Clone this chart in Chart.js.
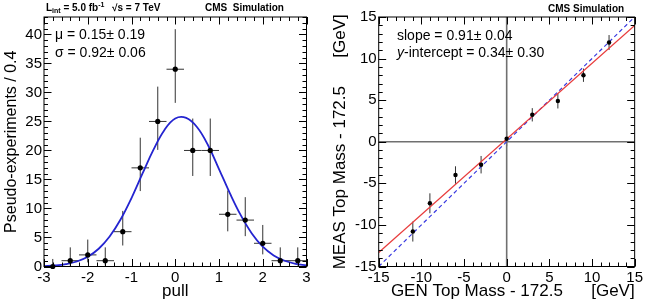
<!DOCTYPE html>
<html>
<head>
<meta charset="utf-8">
<script src="https://cdn.jsdelivr.net/npm/chart.js@4.4.0/dist/chart.umd.min.js"></script>
<style>
html, body { margin: 0; padding: 0; background: #fff; }
#wrap { position: relative; width: 645px; height: 305px; overflow: hidden; }
.panel { position: absolute; top: 0; height: 305px; }
</style>
</head>
<body>
<div id="wrap">
  <div class="panel" style="left:0;width:322px"><canvas id="pullChart" width="322" height="305"></canvas></div>
  <div class="panel" style="left:322px;width:323px"><canvas id="massChart" width="323" height="305"></canvas></div>
</div>
<script>
// left panel: pull distribution
const pullBins = [-2.8, -2.4, -2.0, -1.6, -1.2, -0.8, -0.4, 0.0, 0.4, 0.8, 1.2, 1.6, 2.0, 2.4, 2.8];
const pullCounts = [0, 1, 2, 1, 6, 17, 25, 34, 20, 20, 9, 8, 4, 1, 1];
const pullErrLow = [0, 0.83, 1.29, 0.83, 2.38, 4.0, 4.9, 5.8, 4.4, 4.4, 2.94, 2.77, 1.91, 0.83, 0.83];
const pullErrHigh = [1.3, 2.3, 2.64, 2.3, 3.58, 5.2, 6.0, 6.9, 5.5, 5.5, 4.1, 3.95, 3.16, 2.3, 2.3];

// gaussian fit curve
const fitX = [-3, -2.75, -2.5, -2.25, -2, -1.75, -1.5, -1.25, -1, -0.75, -0.5, -0.25, 0,
              0.25, 0.5, 0.75, 1, 1.25, 1.5, 1.75, 2, 2.25, 2.5, 2.75, 3];
const fitY = [0.07, 0.18, 0.41, 0.86, 1.68, 3.06, 5.17, 8.1, 11.8, 16.0, 20.1, 23.5, 25.5,
              25.6, 24.0, 20.9, 16.8, 12.6, 8.8, 5.7, 3.41, 1.91, 0.99, 0.47, 0.21];

// right panel: calibration
const genMass = [-11, -9, -6, -3, 0, 3, 6, 9, 12];
const measMass = [-10.8, -7.4, -4.0, -2.76, 0.36, 3.24, 4.9, 8.0, 11.93];
const measErr = [1.2, 1.2, 1.05, 1.05, 0.9, 0.8, 0.9, 0.8, 0.9];
const lineEndsX = [-15, 15];
const fitLineY = [-13.31, 13.99];
const diagLineY = [-15, 15];

Chart.defaults.font.family = '"Liberation Sans", Arial, Helvetica, sans-serif';
Chart.defaults.color = '#000';

// ROOT style frame with inward ticks on all sides
const rootFrame = {
    id: 'rootFrame',
    afterDatasetsDraw(chart, args, opts) {
        const ctx = chart.ctx;
        const a = chart.chartArea;
        const x = chart.scales.x, y = chart.scales.y;
        ctx.save();
        ctx.strokeStyle = '#000';
        ctx.lineWidth = 1;
        ctx.strokeRect(a.left, a.top, a.right - a.left, a.bottom - a.top);
        ctx.beginPath();
        let n = Math.round((x.max - x.min) / opts.xMinor);
        for (let i = 0; i <= n; i++) {
            const v = x.min + i * opts.xMinor;
            const px = Math.round(x.getPixelForValue(v)) + 0.5;
            const r = v / opts.xMajor;
            const len = Math.abs(r - Math.round(r)) < 1e-6 ? opts.majorLen : opts.minorLen;
            ctx.moveTo(px, a.bottom); ctx.lineTo(px, a.bottom - len);
            ctx.moveTo(px, a.top); ctx.lineTo(px, a.top + len);
        }
        n = Math.round((y.max - y.min) / opts.yMinor);
        for (let i = 0; i <= n; i++) {
            const v = y.min + i * opts.yMinor;
            const py = Math.round(y.getPixelForValue(v)) + 0.5;
            const r = v / opts.yMajor;
            const len = Math.abs(r - Math.round(r)) < 1e-6 ? opts.majorLen : opts.minorLen;
            ctx.moveTo(a.left, py); ctx.lineTo(a.left + len, py);
            ctx.moveTo(a.right, py); ctx.lineTo(a.right - len, py);
        }
        ctx.stroke();
        ctx.restore();
    }
};

const errorBars = {
    id: 'errorBars',
    beforeDatasetsDraw(chart, args, opts) {
        const ctx = chart.ctx;
        const x = chart.scales.x, y = chart.scales.y;
        const pts = chart.data.datasets[0].data;
        ctx.save();
        ctx.strokeStyle = opts.color;
        ctx.lineWidth = 1;
        ctx.beginPath();
        pts.forEach((p, i) => {
            const px = x.getPixelForValue(p.x);
            ctx.moveTo(px, y.getPixelForValue(p.y - opts.low[i]));
            ctx.lineTo(px, y.getPixelForValue(p.y + opts.high[i]));
            if (opts.xHalf) {
                const py = y.getPixelForValue(p.y);
                ctx.moveTo(x.getPixelForValue(p.x - opts.xHalf), py);
                ctx.lineTo(x.getPixelForValue(p.x + opts.xHalf), py);
            }
        });
        ctx.stroke();
        ctx.restore();
    }
};

const labels = {
    id: 'labels',
    afterDraw(chart, args, opts) {
        const ctx = chart.ctx;
        ctx.save();
        ctx.fillStyle = '#000';
        ctx.textBaseline = 'alphabetic';
        opts.items.forEach(item => {
            let cx = item.x;
            item.parts.forEach(part => {
                ctx.font = part.font;
                ctx.fillText(part.text, cx, item.y + (part.dy || 0));
                cx += ctx.measureText(part.text).width;
            });
        });
        ctx.restore();
    }
};

const fam = '"Liberation Sans", Arial, Helvetica, sans-serif';

function axis(min, max, step, fit, title, titleSize, titlePad, align) {
    return {
        type: 'linear', min: min, max: max,
        ticks: { stepSize: step, includeBounds: false, padding: 2, maxRotation: 0, font: { size: 15 }, color: '#000' },
        grid: { display: false, drawTicks: false },
        border: { display: false },
        title: { display: true, text: title, align: align || 'center', font: { size: titleSize }, color: '#000', padding: titlePad },
        afterFit: fit
    };
}

new Chart(document.getElementById('pullChart'), {
    type: 'scatter',
    data: {
        datasets: [{
            data: pullBins.map((b, i) => ({ x: b, y: pullCounts[i] })),
            pointRadius: 2.6,
            pointBackgroundColor: '#000',
            pointBorderWidth: 0,
            clip: false
        }, {
            type: 'line',
            data: fitX.map((v, i) => ({ x: v, y: fitY[i] })),
            borderColor: '#2424d0',
            borderWidth: 1.8,
            pointRadius: 0,
            tension: 0.4,
            fill: false
        }]
    },
    options: {
        responsive: false,
        animation: false,
        layout: { padding: { top: 17, right: 15.5, left: 0, bottom: 0 } },
        scales: {
            x: axis(-3, 3, 1, s => { s.height = 38.5; }, 'pull', 17, { top: 0, bottom: 3 }),
            y: axis(0, 43, 5, s => { s.width = 44; }, 'Pseudo-experiments / 0.4', 16, { top: 2, bottom: 0 })
        },
        plugins: {
            legend: { display: false },
            tooltip: { enabled: false },
            errorBars: { low: pullErrLow, high: pullErrHigh, xHalf: 0.2, color: '#333' },
            rootFrame: { xMajor: 1, xMinor: 0.2, yMajor: 5, yMinor: 1, majorLen: 7.5, minorLen: 4 },
            labels: {
                items: [
                    { x: 46, y: 11, parts: [
                        { text: 'L', font: 'bold 10px ' + fam },
                        { text: 'int', font: 'bold 7px ' + fam, dy: 2 },
                        { text: ' = 5.0 fb', font: 'bold 10px ' + fam },
                        { text: '-1', font: 'bold 7px ' + fam, dy: -4 }
                    ] },
                    { x: 112, y: 11, parts: [{ text: '√s = 7 TeV', font: 'bold 10px ' + fam }] },
                    { x: 205, y: 11, parts: [{ text: 'CMS  Simulation', font: 'bold 10px ' + fam }] },
                    { x: 55, y: 39, parts: [{ text: 'μ = 0.15± 0.19', font: '14px ' + fam }] },
                    { x: 55, y: 57, parts: [{ text: 'σ = 0.92± 0.06', font: '14px ' + fam }] }
                ]
            }
        }
    },
    plugins: [errorBars, rootFrame, labels]
});

new Chart(document.getElementById('massChart'), {
    type: 'scatter',
    data: {
        datasets: [{
            data: genMass.map((g, i) => ({ x: g, y: measMass[i] })),
            pointRadius: 2.2,
            pointBackgroundColor: '#000',
            pointBorderWidth: 0,
            clip: false
        }, {
            type: 'line',
            data: lineEndsX.map((v, i) => ({ x: v, y: fitLineY[i] })),
            borderColor: '#e83c3c',
            borderWidth: 1.2,
            pointRadius: 0
        }, {
            type: 'line',
            data: lineEndsX.map((v, i) => ({ x: v, y: diagLineY[i] })),
            borderColor: '#3a3ae0',
            borderWidth: 1.2,
            borderDash: [4, 3],
            pointRadius: 0
        }, {
            type: 'line',
            data: lineEndsX.map(v => ({ x: 0, y: v })),
            borderColor: '#707070',
            borderWidth: 1.6,
            pointRadius: 0
        }, {
            type: 'line',
            data: lineEndsX.map(v => ({ x: v, y: 0 })),
            borderColor: '#707070',
            borderWidth: 1.6,
            pointRadius: 0
        }]
    },
    options: {
        responsive: false,
        animation: false,
        layout: { padding: { top: 17, right: 6.5, left: 0, bottom: 0 } },
        scales: {
            x: axis(-15, 15, 5, s => { s.height = 38.5; }, 'GEN Top Mass - 172.5      [GeV]', 17, { top: 0, bottom: 3 }, 'end'),
            y: axis(-15, 15, 5, s => { s.width = 56.7; }, 'MEAS Top Mass - 172.5      [GeV]', 17, { top: 8, bottom: 0 })
        },
        plugins: {
            legend: { display: false },
            tooltip: { enabled: false },
            errorBars: { low: measErr, high: measErr, xHalf: 0, color: '#333' },
            rootFrame: { xMajor: 5, xMinor: 1, yMajor: 5, yMinor: 1, majorLen: 7.5, minorLen: 4 },
            labels: {
                items: [
                    { x: 226, y: 11.5, parts: [{ text: 'CMS Simulation', font: 'bold 10px ' + fam }] },
                    { x: 75, y: 40, parts: [{ text: 'slope = 0.91± 0.04', font: '14px ' + fam }] },
                    { x: 75, y: 57, parts: [
                        { text: 'y', font: 'italic 14px ' + fam },
                        { text: '-intercept = 0.34± 0.30', font: '14px ' + fam }
                    ] }
                ]
            }
        }
    },
    plugins: [errorBars, rootFrame, labels]
});
</script>
</body>
</html>
